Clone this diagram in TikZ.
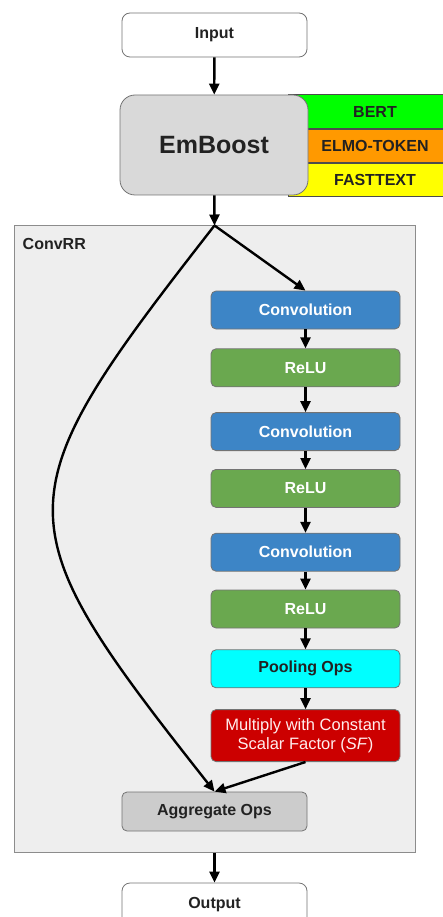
\documentclass[tikz,border=0pt]{standalone}
\usepackage{fontspec}
\setmainfont{Liberation Sans}
\usetikzlibrary{arrows.meta, positioning}

\definecolor{convblue}{HTML}{3D85C6}
\definecolor{relugreen}{HTML}{6AA84F}
\definecolor{poolcyan}{HTML}{00FFFF}
\definecolor{multred}{HTML}{CC0000}
\definecolor{aggrgray}{HTML}{CCCCCC}
\definecolor{embgray}{HTML}{D9D9D9}
\definecolor{panelgray}{HTML}{EEEEEE}
\definecolor{bertgreen}{HTML}{00FF00}
\definecolor{elmoorange}{HTML}{FF9900}
\definecolor{fastyellow}{HTML}{FFFF00}
\definecolor{darktext}{HTML}{222222}

\begin{document}
\begin{tikzpicture}[x=1pt, y=-1pt,
        font=\fontsize{16}{19}\selectfont\bfseries,
        box/.style={draw=black!55, line width=0.8pt, rounded corners=5pt, minimum width=189pt, minimum height=38pt, inner sep=2pt},
        io/.style={box, fill=white, text=darktext, rounded corners=8pt, minimum width=185pt, minimum height=44pt},
        embed/.style={draw=black!70, line width=0.8pt, minimum width=174pt, minimum height=33.3pt, text=darktext},
        arrow/.style={-{Triangle[length=11pt,width=10pt]}, line width=2.4pt}
    ]

    \useasboundingbox (0,0) rectangle (442,917);

    % embeddings behind the booster
    \node[embed, fill=bertgreen] (bert) at (375,111.5) {BERT};
    \node[embed, fill=elmoorange, below=0pt of bert] (elmo) {ELMO-TOKEN};
    \node[embed, fill=fastyellow, below=0pt of elmo] (fast) {FASTTEXT};

    \node[io] (input) at (214.5,35) {Input};
    \node[box, fill=embgray, text=darktext, rounded corners=15pt, minimum width=188pt, minimum height=100pt,
          font=\fontsize{25}{30}\selectfont\bfseries] (emboost) at (214,145) {EmBoost};

    % ConvRR block
    \node[draw=black!45, line width=1pt, fill=panelgray, minimum width=401pt, minimum height=626pt] (convrr) at (214.5,539) {};
    \node[anchor=north west, text=darktext, inner sep=0pt] (convrrlabel) at ([shift={(9pt,-13pt)}]convrr.north west) {ConvRR};
    \coordinate (split) at (convrr.north);

    \node[box, fill=convblue, text=white] (conv1) at (305.5,310) {Convolution};
    \node[box, fill=relugreen, text=white, below=19pt of conv1] (relu1) {ReLU};
    \node[box, fill=convblue, text=white, below=25pt of relu1] (conv2) {Convolution};
    \node[box, fill=relugreen, text=white, below=18pt of conv2] (relu2) {ReLU};
    \node[box, fill=convblue, text=white, below=25pt of relu2] (conv3) {Convolution};
    \node[box, fill=relugreen, text=white, below=18pt of conv3] (relu3) {ReLU};
    \node[box, fill=poolcyan, text=darktext, below=21pt of relu3] (pool) {Pooling Ops};
    \node[box, fill=multred, text=white!93!red, minimum height=52pt, align=center, font=\fontsize{16.5}{19.5}\selectfont,
          below=21pt of pool] (mult) {Multiply with Constant\\Scalar Factor (\textit{SF})};
    \node[box, fill=aggrgray, text=darktext, minimum width=185pt, minimum height=39pt] (agg) at (214.5,811.5) {Aggregate Ops};

    \node[io, minimum height=44pt] (output) at (214.5,905) {Output};

    % connectors
    \draw[arrow] (input) -- (emboost);
    \draw[arrow] (emboost) -- (split);
    \draw[arrow] (split) -- (conv1.north);
    \draw[arrow] (conv1) -- (relu1);
    \draw[arrow] (relu1) -- (conv2);
    \draw[arrow] (conv2) -- (relu2);
    \draw[arrow] (relu2) -- (conv3);
    \draw[arrow] (conv3) -- (relu3);
    \draw[arrow] (relu3) -- (pool);
    \draw[arrow] (pool) -- (mult);
    \draw[arrow] (mult.south) -- (agg.north);
    \draw[arrow] (split) .. controls (0,500) and (0,520) .. (agg.north);
    \draw[arrow] (convrr.south) -- (output);
\end{tikzpicture}
\end{document}
